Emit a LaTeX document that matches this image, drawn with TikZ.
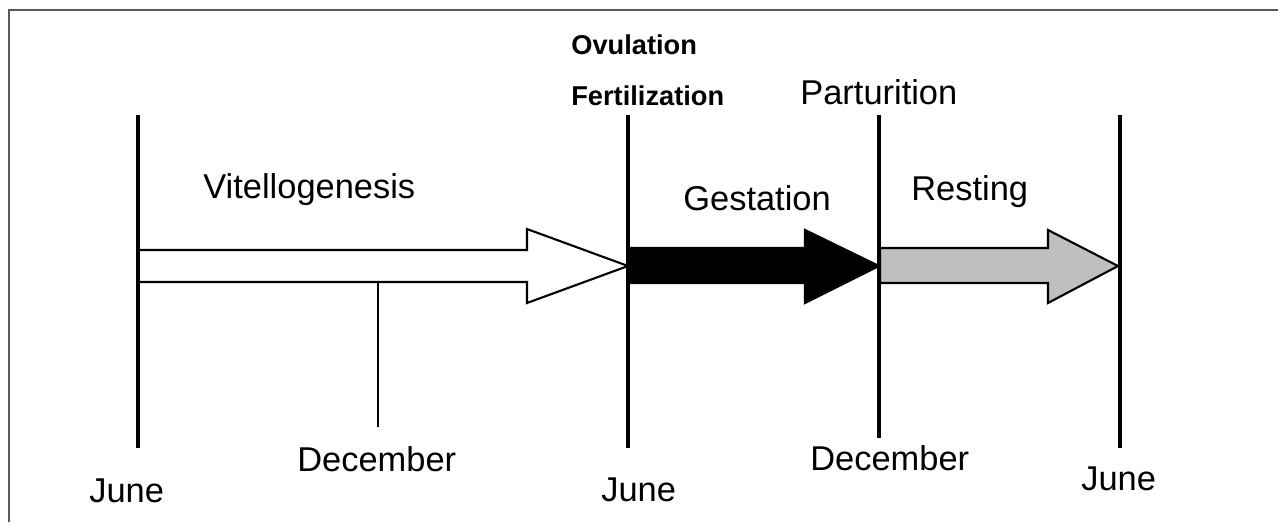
\documentclass[tikz,border=0pt]{standalone}
\usepackage{fontspec}
\setmainfont{Liberation Sans}

\begin{document}
\begin{tikzpicture}[
    x=0.02cm,
    y=-0.02cm,
    month/.style={
        anchor=base west,
        inner sep=0pt,
        font=\fontsize{19.6}{22}\selectfont
    },
    phase/.style={
        anchor=base west,
        inner sep=0pt,
        font=\fontsize{19.6}{22}\selectfont
    },
    event/.style={
        anchor=base west,
        inner sep=0pt,
        font=\fontsize{15.5}{18}\selectfont\bfseries
    },
    divider/.style={
        draw=black,
        line width=1.9pt
    },
    tickline/.style={
        draw=black,
        line width=1.2pt
    },
    phasearrow/.style={
        draw=black,
        line width=1.2pt,
        line join=miter
    },
    frameline/.style={
        draw=black!65,
        line width=1.3pt
    }
]

\useasboundingbox (0,0) rectangle (1278,522);

% frame
\draw[frameline] (1278,10) -- (9,10) -- (9,522);

% phase arrows
\draw[phasearrow, fill=white]
    (138,250) -- (527,250) -- (527,229) -- (628,266) --
    (527,303) -- (527,282) -- (138,282) -- cycle;

\draw[phasearrow, fill=black]
    (629,248) -- (805,248) -- (805,230) -- (879,266) --
    (805,303) -- (805,283) -- (629,283) -- cycle;

\draw[phasearrow, fill=black!25]
    (880,248) -- (1048,248) -- (1048,230) -- (1118,266) --
    (1048,303) -- (1048,283) -- (880,283) -- cycle;

% dividers
\draw[divider] (138,115) -- (138,448);
\draw[divider] (628,115) -- (628,448);
\draw[divider] (879,115) -- (879,438);
\draw[divider] (1120,115) -- (1120,448);
\draw[tickline] (378,282) -- (378,427);

% events
\node[event] (ovulation) at (571,54) {Ovulation};
\node[event] (fertilization) at (571,105) {Fertilization};
\node[phase] (parturition) at (800,104) {Parturition};

% phases
\node[phase] (vitellogenesis) at (203,198) {Vitellogenesis};
\node[phase] (gestation) at (683,210) {Gestation};
\node[phase] (resting) at (911,200) {Resting};

% months
\node[month] (june1) at (89,502) {June};
\node[month] (december1) at (297,471) {December};
\node[month] (june2) at (601,501) {June};
\node[month] (december2) at (810,470) {December};
\node[month] (june3) at (1081,490) {June};

\end{tikzpicture}
\end{document}
